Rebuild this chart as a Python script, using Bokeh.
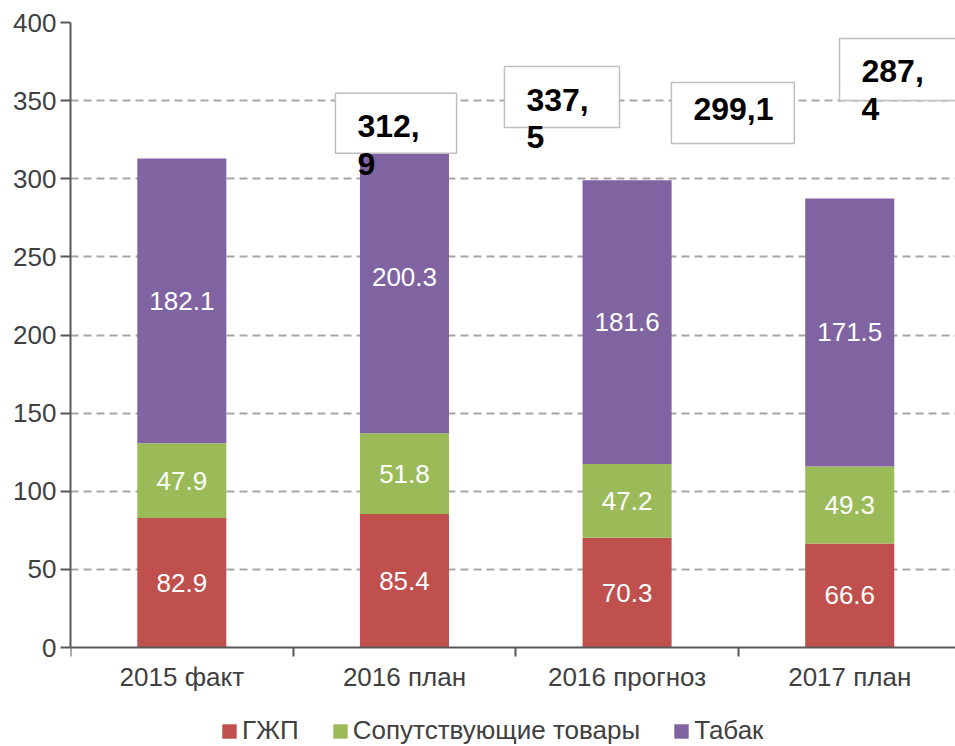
import numpy as np
from bokeh.plotting import figure
from bokeh.models import (ColumnDataSource, FixedTicker, Legend, LegendItem,
                          Range1d)
from bokeh.core.properties import value
from bokeh.embed import file_html
from bokeh.resources import INLINE

# ---------------- data ----------------
categories = ["2015 факт", "2016 план", "2016 прогноз", "2017 план"]
series_names = ["ГЖП", "Сопутствующие товары", "Табак"]
gzhp = [82.9, 85.4, 70.3, 66.6]
soput = [47.9, 51.8, 47.2, 49.3]
tabak = [182.1, 200.3, 181.6, 171.5]
y_ticks = [0, 50, 100, 150, 200, 250, 300, 350, 400]

# total label boxes (layout of the annotation boxes, in axis units)
box_left = [1.190, 1.949, 2.699, 3.454]
box_right = [1.734, 2.466, 3.251, 3.990]
box_top = [354.8, 371.8, 361.6, 389.8]
box_bottom = [316.4, 332.8, 322.6, 350.1]
box_wrap = [True, True, False, True]

colors = ["#C0504D", "#9BBB59", "#8064A2"]
FONT = "Liberation Sans"

n = len(categories)
xs = np.arange(n) + 0.5

# frame extends below zero to hold the category labels and the legend
p = figure(frame_width=885, frame_height=724, output_backend="svg",
           toolbar_location=None,
           x_range=Range1d(0, 3.975), y_range=Range1d(-63.36, 400),
           min_border_left=70, min_border_right=0, min_border_top=22,
           min_border_bottom=0)
p.outline_line_color = None
p.background_fill_color = "white"

src = ColumnDataSource(dict(x=xs, g=gzhp, s=soput, t=tabak))
rs = p.vbar_stack(["g", "s", "t"], x="x", width=0.4, source=src,
                  color=colors, line_color=None)

# segment labels
vals = np.array([gzhp, soput, tabak])
cum = np.cumsum(vals, axis=0)
mids = cum - vals / 2
lx, ly, lt = [], [], []
for k in range(3):
    for i in range(n):
        lx.append(xs[i]); ly.append(mids[k, i]); lt.append(f"{vals[k, i]:.1f}")
p.text(x=lx, y=ly, text=lt, text_color="white", text_align="center",
       text_baseline="middle", text_font=value(FONT), text_font_size="26px")

# total boxes
totals = cum[-1]
p.quad(left=box_left, right=box_right, top=box_top, bottom=box_bottom,
       fill_color="white", line_color="#BFBFBF", line_width=1.5)
tot_txt = []
for i in range(n):
    s = f"{totals[i]:.1f}".replace(".", ",")
    if box_wrap[i]:
        a, b = s.split(",")
        s = a + ",\n" + b
    tot_txt.append(s)
p.text(x=box_left, y=box_top, text=tot_txt, text_color="black",
       text_align="left", text_baseline="top", text_font=value(FONT),
       text_font_size="32px", text_font_style="bold", x_offset=22, y_offset=15,
       text_line_height=1.05)

# axes
p.yaxis.ticker = FixedTicker(ticks=y_ticks)
p.yaxis.bounds = (0, 400)
p.yaxis.minor_tick_line_color = None
p.yaxis.major_tick_out = 10
p.yaxis.major_tick_in = 0
p.yaxis.major_label_standoff = 4
p.yaxis.axis_line_width = 2
p.yaxis.axis_line_color = "#595959"
p.yaxis.major_tick_line_color = "#595959"
p.yaxis.major_tick_line_width = 2
p.yaxis.major_label_text_font = FONT
p.yaxis.major_label_text_font_size = "26px"
p.yaxis.major_label_text_color = "#404040"

p.xaxis.fixed_location = 0
p.xaxis.ticker = FixedTicker(ticks=list(xs), minor_ticks=list(range(n + 1)))
p.xaxis.major_label_overrides = {float(x): c for x, c in zip(xs, categories)}
p.xaxis.major_tick_line_color = None
p.xaxis.major_tick_out = 0
p.xaxis.minor_tick_out = 9
p.xaxis.minor_tick_in = 0
p.xaxis.minor_tick_line_color = "#595959"
p.xaxis.minor_tick_line_width = 2
p.xaxis.axis_line_width = 2
p.xaxis.axis_line_color = "#595959"
p.xaxis.major_label_standoff = 5
p.xaxis.major_label_text_font = FONT
p.xaxis.major_label_text_font_size = "26px"
p.xaxis.major_label_text_color = "#404040"

p.xgrid.grid_line_color = None
p.ygrid.ticker = FixedTicker(ticks=y_ticks[1:])
p.ygrid.grid_line_color = "#A6A6A6"
p.ygrid.grid_line_width = 2
p.ygrid.grid_line_dash = "8 5"

legend = Legend(items=[LegendItem(label=series_names[k], renderers=[rs[k]])
                       for k in range(3)],
                orientation="horizontal", location=(150, 0),
                label_text_font=FONT, label_text_font_size="26px",
                label_text_color="#404040", glyph_width=18, glyph_height=18,
                label_standoff=4, spacing=32, border_line_color=None,
                background_fill_alpha=0, padding=0, margin=0)
p.add_layout(legend, "center")

open("out.html", "w").write(file_html(p, INLINE))
